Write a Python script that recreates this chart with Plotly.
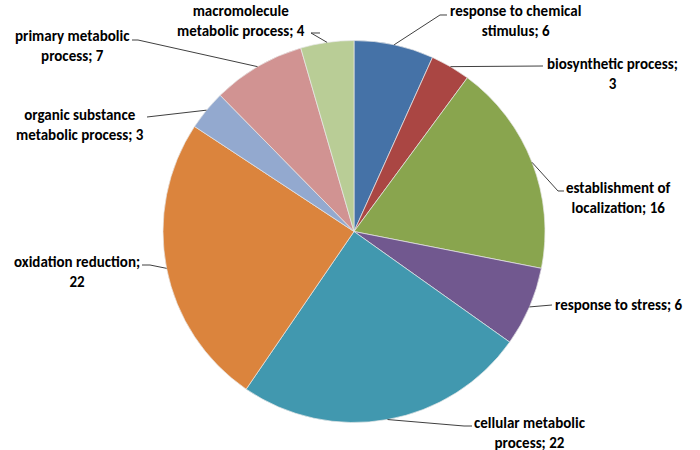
import math
import plotly.graph_objects as go

categories = [
    "response to chemical stimulus",
    "biosynthetic process",
    "establishment of localization",
    "response to stress",
    "cellular metabolic process",
    "oxidation reduction",
    "organic substance metabolic process",
    "primary metabolic process",
    "macromolecule metabolic process",
]
values = [6, 3, 16, 6, 22, 22, 3, 7, 4]
label_texts = [
    "response to chemical<br>stimulus; 6",
    "biosynthetic process;<br>3",
    "establishment of<br>localization; 16",
    "response to stress; 6",
    "cellular metabolic<br>process; 22",
    "oxidation reduction;<br>22",
    "organic substance<br>metabolic process; 3",
    "primary metabolic<br>process; 7",
    "macromolecule<br>metabolic process; 4",
]
colors = ["#4572A7", "#AA4643", "#89A54E", "#71588F", "#4198AF",
          "#DB843D", "#93A9CF", "#D19392", "#B9CD96"]

W, H = 700, 450
CX, CY, R = 354, 231.5, 191

# label styling: (text center x, text center y), leader path points from text side (pixels)
label_pos = [(515, 21), (612, 74), (618, 198), (619, 305), (530, 433),
             (77, 272), (80, 125), (72, 46), (241, 21)]
leader_pts = [
    [(447, 15), (440, 15)],
    [(543, 66)],
    [(564, 191), (558, 191)],
    [(552, 305)],
    [(472, 426), (464, 426)],
    [(142, 265), (150, 265)],
    [(147, 117)],
    [(132, 40), (138, 40)],
    [(320, 33), (311, 33)],
]

FONT = "Carlito, Calibri, Lato, sans-serif"

fig = go.Figure(go.Pie(
    labels=categories, values=values, sort=False, direction="clockwise",
    rotation=0, marker=dict(colors=colors, line=dict(color="#E8E8E8", width=0.7)),
    textinfo="none", hoverinfo="label+value", showlegend=False,
    domain=dict(x=[(CX - R) / W, (CX + R) / W], y=[1 - (CY + R) / H, 1 - (CY - R) / H]),
))

def px(x, y):
    return x / W, 1 - y / H

total = sum(values)
cum = 0
shapes = []
annotations = []
for i, v in enumerate(values):
    mid = (cum + v / 2) / total * 2 * math.pi
    cum += v
    ex = CX + R * math.sin(mid)
    ey = CY - R * math.cos(mid)
    pts = [(ex, ey)] + leader_pts[i][::-1]
    path = "M " + " L ".join(f"{px(a, b)[0]:.5f},{px(a, b)[1]:.5f}" for a, b in pts)
    shapes.append(dict(type="path", path=path, xref="paper", yref="paper",
                       line=dict(color="#404040", width=1)))
    tx, ty = label_pos[i]
    annotations.append(dict(x=px(tx, ty)[0], y=px(tx, ty)[1], xref="paper", yref="paper",
                            text=label_texts[i], showarrow=False, align="center",
                            xanchor="center", yanchor="middle",
                            font=dict(family=FONT, size=15, color="#000000", weight="bold")))

fig.update_layout(
    width=W, height=H, margin=dict(l=0, r=0, t=0, b=0),
    paper_bgcolor="white", plot_bgcolor="white",
    shapes=shapes, annotations=annotations,
)
fig.write_html("out.html", config={"displayModeBar": False},
               post_script="document.body.style.margin='0';")
